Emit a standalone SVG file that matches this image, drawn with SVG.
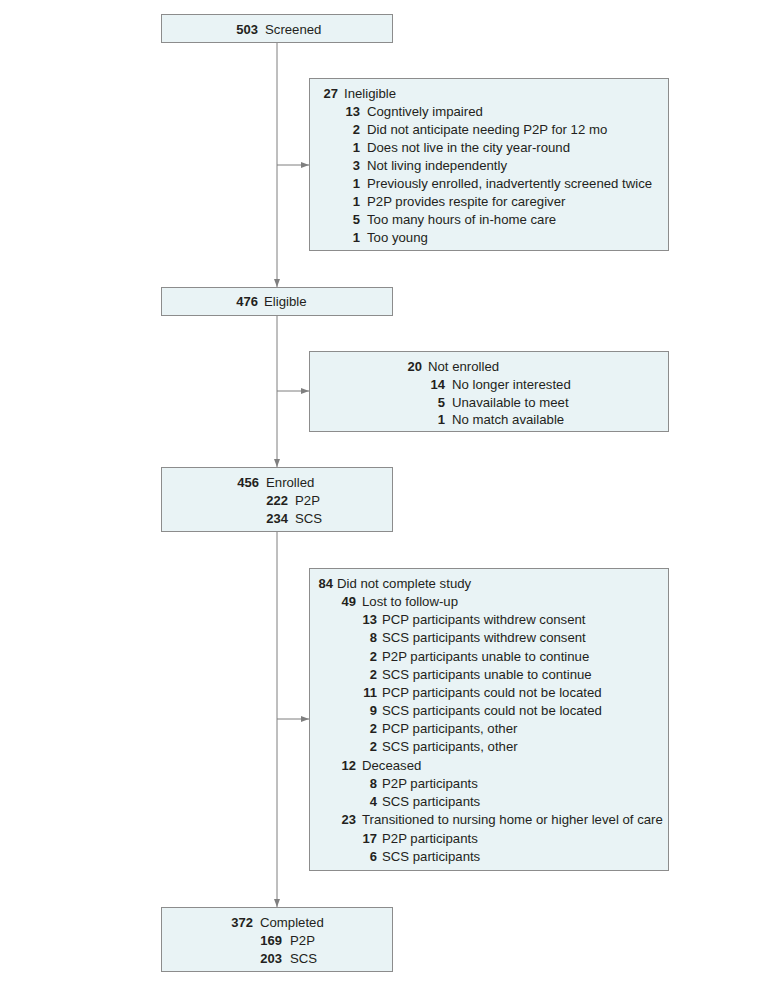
<svg xmlns="http://www.w3.org/2000/svg" width="780" height="984" viewBox="0 0 780 984">
<style>
.box{fill:#e9f3f5;stroke:#8c8c8c;stroke-width:1}
.n{font-family:"Liberation Sans",Arial,sans-serif;font-size:13px;font-weight:bold;fill:#231f20;text-anchor:end}
.t{font-family:"Liberation Sans",Arial,sans-serif;font-size:13.2px;fill:#231f20}
.c{stroke:#7f7f7f;stroke-width:1;fill:none}
</style>
<defs>
<marker id="ah" viewBox="0 0 8 6" refX="8" refY="3" markerWidth="8" markerHeight="6" markerUnits="userSpaceOnUse" orient="auto">
<path d="M0,0 L8,3 L0,6 Z" fill="#7f7f7f"/>
</marker>
</defs>
<rect width="780" height="984" fill="#ffffff"/>
<g id="connectors">
<line class="c" x1="277" y1="42" x2="277" y2="287" marker-end="url(#ah)"/>
<line class="c" x1="277" y1="165" x2="309" y2="165" marker-end="url(#ah)"/>
<line class="c" x1="277" y1="315" x2="277" y2="467" marker-end="url(#ah)"/>
<line class="c" x1="277" y1="391" x2="309" y2="391" marker-end="url(#ah)"/>
<line class="c" x1="277" y1="531" x2="277" y2="907" marker-end="url(#ah)"/>
<line class="c" x1="277" y1="719" x2="309" y2="719" marker-end="url(#ah)"/>
</g>
<g id="screened">
<rect class="box" x="161.5" y="14.5" width="231" height="28"/>
<text class="n" x="258" y="34">503</text><text class="t" x="265" y="34">Screened</text>
</g>
<g id="ineligible">
<rect class="box" x="309.5" y="78.5" width="359" height="172"/>
<text class="n" x="338" y="98">27</text><text class="t" x="344" y="98">Ineligible</text>
<text class="n" x="360" y="116">13</text><text class="t" x="367" y="116">Cogntively impaired</text>
<text class="n" x="360" y="134">2</text><text class="t" x="367" y="134">Did not anticipate needing P2P for 12 mo</text>
<text class="n" x="360" y="152">1</text><text class="t" x="367" y="152">Does not live in the city year-round</text>
<text class="n" x="360" y="170">3</text><text class="t" x="367" y="170">Not living independently</text>
<text class="n" x="360" y="188">1</text><text class="t" x="367" y="188">Previously enrolled, inadvertently screened twice</text>
<text class="n" x="360" y="206">1</text><text class="t" x="367" y="206">P2P provides respite for caregiver</text>
<text class="n" x="360" y="224">5</text><text class="t" x="367" y="224">Too many hours of in-home care</text>
<text class="n" x="360" y="242">1</text><text class="t" x="367" y="242">Too young</text>
</g>
<g id="eligible">
<rect class="box" x="161.5" y="287.5" width="231" height="28"/>
<text class="n" x="258" y="306">476</text><text class="t" x="264" y="306">Eligible</text>
</g>
<g id="not-enrolled">
<rect class="box" x="309.5" y="351.5" width="359" height="80"/>
<text class="n" x="422" y="371">20</text><text class="t" x="428" y="371">Not enrolled</text>
<text class="n" x="445" y="389">14</text><text class="t" x="452" y="389">No longer interested</text>
<text class="n" x="445" y="407">5</text><text class="t" x="452" y="407">Unavailable to meet</text>
<text class="n" x="445" y="424">1</text><text class="t" x="452" y="424">No match available</text>
</g>
<g id="enrolled">
<rect class="box" x="161.5" y="467.5" width="231" height="64"/>
<text class="n" x="259" y="487">456</text><text class="t" x="266" y="487">Enrolled</text>
<text class="n" x="288" y="505">222</text><text class="t" x="295" y="505">P2P</text>
<text class="n" x="288" y="523">234</text><text class="t" x="295" y="523">SCS</text>
</g>
<g id="did-not-complete">
<rect class="box" x="309.5" y="568.5" width="359" height="302"/>
<text class="n" x="333" y="588">84</text><text class="t" x="337" y="588">Did not complete study</text>
<text class="n" x="356" y="606">49</text><text class="t" x="362" y="606">Lost to follow-up</text>
<text class="n" x="377" y="624">13</text><text class="t" x="382" y="624">PCP participants withdrew consent</text>
<text class="n" x="377" y="642">8</text><text class="t" x="382" y="642">SCS participants withdrew consent</text>
<text class="n" x="377" y="661">2</text><text class="t" x="382" y="661">P2P participants unable to continue</text>
<text class="n" x="377" y="679">2</text><text class="t" x="382" y="679">SCS participants unable to continue</text>
<text class="n" x="377" y="697">11</text><text class="t" x="382" y="697">PCP participants could not be located</text>
<text class="n" x="377" y="715">9</text><text class="t" x="382" y="715">SCS participants could not be located</text>
<text class="n" x="377" y="733">2</text><text class="t" x="382" y="733">PCP participants, other</text>
<text class="n" x="377" y="751">2</text><text class="t" x="382" y="751">SCS participants, other</text>
<text class="n" x="356" y="770">12</text><text class="t" x="362" y="770">Deceased</text>
<text class="n" x="377" y="788">8</text><text class="t" x="382" y="788">P2P participants</text>
<text class="n" x="377" y="806">4</text><text class="t" x="382" y="806">SCS participants</text>
<text class="n" x="356" y="824">23</text><text class="t" x="362" y="824">Transitioned to nursing home or higher level of care</text>
<text class="n" x="377" y="843">17</text><text class="t" x="382" y="843">P2P participants</text>
<text class="n" x="377" y="861">6</text><text class="t" x="382" y="861">SCS participants</text>
</g>
<g id="completed">
<rect class="box" x="161.5" y="907.5" width="231" height="64"/>
<text class="n" x="253" y="927">372</text><text class="t" x="260" y="927">Completed</text>
<text class="n" x="282" y="945">169</text><text class="t" x="290" y="945">P2P</text>
<text class="n" x="282" y="963">203</text><text class="t" x="290" y="963">SCS</text>
</g>
</svg>
